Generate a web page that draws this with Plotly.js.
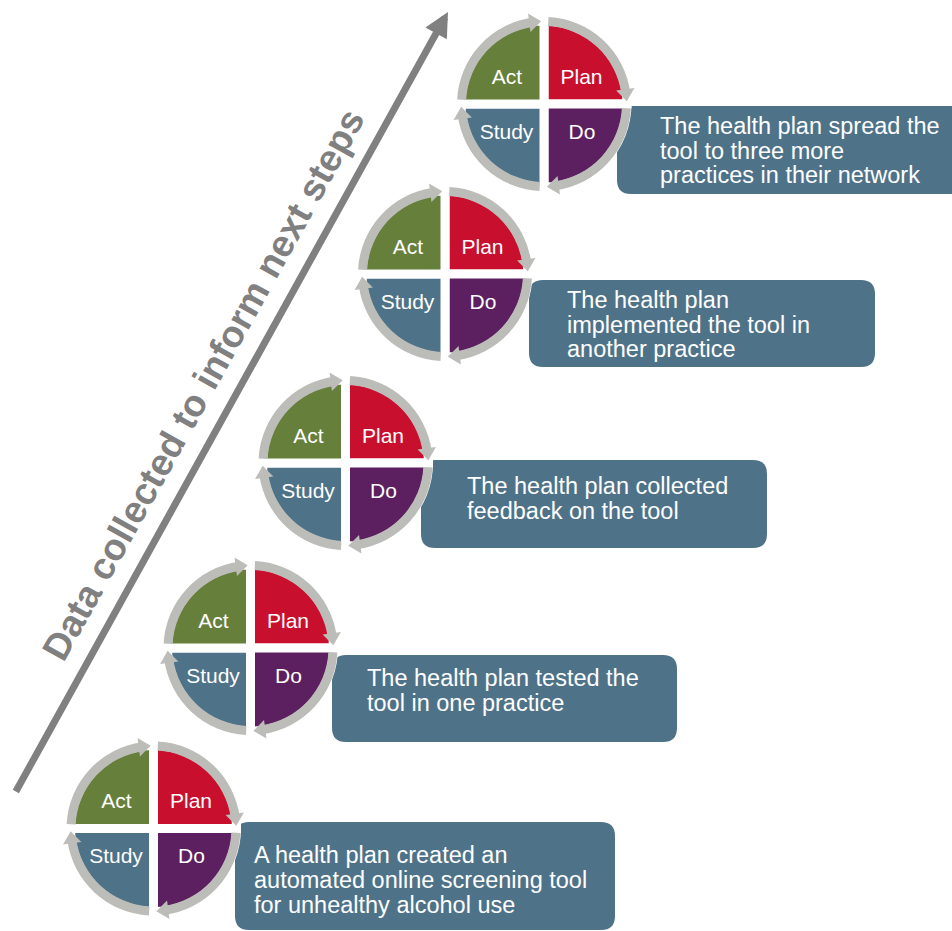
<!DOCTYPE html>
<html>
<head>
<meta charset="utf-8">
<script src="https://cdn.plot.ly/plotly-3.0.1.min.js"></script>
<style>html,body{margin:0;padding:0;background:#fff;}#chart{width:952px;height:931px;}</style>
</head>
<body>
<div id="chart"></div>
<script>
// ---------- content ----------
const phases = ['Plan', 'Do', 'Study', 'Act'];
const phaseColors = ['#C8102E', '#5C1F60', '#4E7389', '#66803B'];
const stepText = [
  'A health plan created an<br>automated online screening tool<br>for unhealthy alcohol use',
  'The health plan tested the<br>tool in one practice',
  'The health plan collected<br>feedback on the tool',
  'The health plan<br>implemented the tool in<br>another practice',
  'The health plan spread the<br>tool to three more<br>practices in their network'
];
const arrowLabel = 'Data collected to inform next steps';

// ---------- layout geometry (pixels) ----------
const W = 952, H = 931;
const cycleCenters = [[153.5, 828.5], [250.5, 648], [345.5, 463], [445, 274], [544, 104]];
const boxRects = [[235, 822, 615, 930], [332, 655, 677, 742], [421, 460, 767, 548], [529, 280, 875, 367], [617, 106, 965, 194]];
const textLeft = [255, 368, 468, 568, 661];
const lineBaselines = [[863, 888, 913], [686.5, 711], [494.5, 519], [308.5, 333, 357.5], [134.5, 159, 183.5]];
const labelOffsets = [[37.5, -25.5], [38, 29.5], [-37.5, 29.5], [-37, -25.5]]; // Plan, Do, Study, Act
const DOM_R = 100, SECTOR_R = 83, RING_IN = 78, RING_W = 9;
const BOX_COLOR = '#4E7389', RING_COLOR = '#BCBCB8', ARROW_COLOR = '#808080';
const FONT = 'Liberation Sans, Arial, sans-serif';
const BOX_FS = 23.5, LABEL_FS = 21;

const data = [];
const layout = {
  width: W, height: H,
  margin: {l: 0, r: 0, t: 0, b: 0},
  paper_bgcolor: '#ffffff', plot_bgcolor: 'rgba(0,0,0,0)',
  showlegend: false,
  xaxis: {range: [0, W], visible: false, domain: [0, 1], fixedrange: true},
  yaxis: {range: [H, 0], visible: false, domain: [0, 1], fixedrange: true},
  shapes: [], annotations: []
};

// empty trace to hold the pixel-space cartesian subplot
data.push({type: 'scatter', x: [], y: [], xaxis: 'x', yaxis: 'y', hoverinfo: 'skip', showlegend: false});

// text boxes
function roundRect(x0, y0, x1, y1, r) {
  return `M${x0 + r},${y0} L${x1 - r},${y0} Q${x1},${y0} ${x1},${y0 + r} L${x1},${y1 - r} Q${x1},${y1} ${x1 - r},${y1} ` +
         `L${x0 + r},${y1} Q${x0},${y1} ${x0},${y1 - r} L${x0},${y0 + r} Q${x0},${y0} ${x0 + r},${y0} Z`;
}
boxRects.forEach(b => {
  layout.shapes.push({type: 'path', xref: 'x', yref: 'y', layer: 'below',
    path: roundRect(b[0], b[1], b[2], b[3], 14), fillcolor: BOX_COLOR, line: {width: 0}});
});
stepText.forEach((t, i) => {
  t.split('<br>').forEach((line, j) => {
    layout.annotations.push({xref: 'x', yref: 'y', x: textLeft[i] - 1, y: lineBaselines[i][j] - 0.35 * BOX_FS,
      xanchor: 'left', yanchor: 'middle', showarrow: false, text: line, borderpad: 0, borderwidth: 0,
      font: {family: FONT, size: BOX_FS, color: '#ffffff'}});
  });
});

// PDSA cycles as polar subplots
cycleCenters.forEach((c, k) => {
  const name = k === 0 ? 'polar' : 'polar' + (k + 1);
  layout[name] = {
    domain: {x: [(c[0] - DOM_R) / W, (c[0] + DOM_R) / W], y: [(H - c[1] - DOM_R) / H, (H - c[1] + DOM_R) / H]},
    bgcolor: 'rgba(0,0,0,0)',
    radialaxis: {visible: false, range: [0, DOM_R], autorange: false},
    angularaxis: {visible: false, direction: 'clockwise', rotation: 90},
    hole: 0
  };
  const thetaC = phases.map((p, i) => 45 + 90 * i);
  // quadrant sectors
  data.push({type: 'barpolar', subplot: name, r: phases.map(() => SECTOR_R), theta: thetaC,
    width: phases.map(() => 90), base: phases.map(() => 0),
    marker: {color: phaseColors, line: {color: '#ffffff', width: 9}}, hoverinfo: 'skip'});
  // ring arcs
  const starts = phases.map((p, i) => 90 * i + 3);
  const tips = phases.map((p, i) => 90 * i + 88);
  const heads = tips.map(t => t - 5.5);
  data.push({type: 'barpolar', subplot: name, r: phases.map(() => RING_W), base: phases.map(() => RING_IN),
    theta: starts.map((s, i) => (s + heads[i]) / 2), width: starts.map((s, i) => heads[i] - s),
    marker: {color: RING_COLOR, line: {width: 0}}, hoverinfo: 'skip'});
  // arrowheads
  data.push({type: 'scatterpolar', subplot: name, mode: 'markers', r: heads.map(() => RING_IN + RING_W / 2), theta: heads,
    cliponaxis: false,
    marker: {symbol: 'triangle-up', size: 16, color: RING_COLOR, angle: heads.map(h => h + 90), line: {width: 0}},
    hoverinfo: 'skip'});
  // phase labels
  data.push({type: 'scatterpolar', subplot: name, mode: 'text', cliponaxis: false,
    r: labelOffsets.map(o => Math.hypot(o[0], o[1])),
    theta: labelOffsets.map(o => Math.atan2(o[0], -o[1]) * 180 / Math.PI),
    text: phases, textposition: 'middle center',
    textfont: {family: FONT, size: LABEL_FS, color: '#ffffff'}, hoverinfo: 'skip'});
});

// big arrow
layout.annotations.push({xref: 'x', yref: 'y', axref: 'x', ayref: 'y', x: 448, y: 12, ax: 15, ay: 793,
  text: '', showarrow: true, arrowhead: 2, arrowsize: 0.7, arrowwidth: 7, arrowcolor: ARROW_COLOR, standoff: 0});
layout.annotations.push({xref: 'x', yref: 'y', x: 203, y: 385, text: arrowLabel, showarrow: false,
  textangle: -61, xanchor: 'center', yanchor: 'middle',
  font: {family: FONT, size: 37.5, color: ARROW_COLOR, weight: 'bold'}});

Plotly.newPlot('chart', data, layout, {displayModeBar: false, staticPlot: true});
</script>
</body>
</html>
